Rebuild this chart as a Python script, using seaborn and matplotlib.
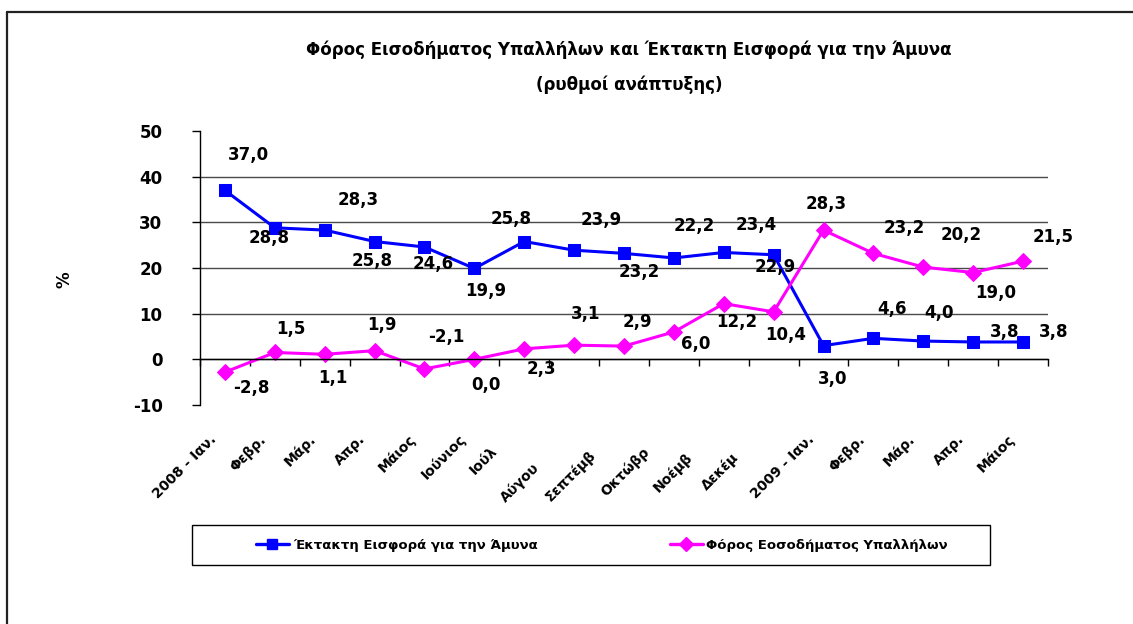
import numpy as np
import pandas as pd
import matplotlib
matplotlib.use("Agg")
import matplotlib.pyplot as plt
import seaborn as sns
from matplotlib.transforms import ScaledTranslation
from matplotlib.lines import Line2D
from matplotlib.patches import Rectangle

# ---------------- data ----------------
categories = ["2008 - Ιαν.", "Φεβρ.", "Μάρ.", "Απρ.", "Μάιος", "Ιούνιος", "Ιούλ",
              "Αύγου", "Σεπτέμβ", "Οκτώβρ", "Νοέμβ", "Δεκέμ", "2009 - Ιαν.",
              "Φεβρ.", "Μάρ.", "Απρ.", "Μάιος"]
defence_levy = [37.0, 28.8, 28.3, 25.8, 24.6, 19.9, 25.8, 23.9, 23.2, 22.2, 23.4,
                22.9, 3.0, 4.6, 4.0, 3.8, 3.8]
income_tax = [-2.8, 1.5, 1.1, 1.9, -2.1, 0.0, 2.3, 3.1, 2.9, 6.0, 12.2, 10.4,
              28.3, 23.2, 20.2, 19.0, 21.5]
series_names = ["Έκτακτη Εισφορά για την Άμυνα", "Φόρος Εοσοδήματος Υπαλλήλων"]
title_lines = ["Φόρος Εισοδήματος Υπαλλήλων και Έκτακτη Εισφορά για την Άμυνα",
               "(ρυθμοί ανάπτυξης)"]
y_label = "%"
yticks = [-10, 0, 10, 20, 30, 40, 50]

# ---------------- styling ----------------
BLUE = "#0000FF"
MAGENTA = "#FF00FF"
# data-label offsets in pixels (right, down)
blue_off = [(23, -35), (-6, 10), (33, -30), (-2, 19), (9, 17), (11, 23), (-13, -23),
            (27, -30), (15, 19), (20, -32), (32, -27), (2, 12), (9, 33), (19, -29),
            (16, -28), (31, -10), (31, -10)]
pink_off = [(26, 16), (16, -23), (8, 24), (7, -26), (22, -32), (12, 26), (17, 20),
            (12, -31), (13, -24), (22, 12), (13, 18), (12, 23), (3, -26), (31, -25),
            (38, -32), (23, 20), (30, -24)]
# extra tick-label shifts (pixels right, down) for clipped month names
tick_extra = {6: (-18, 12), 7: (-26, 28), 8: (-19, 16), 9: (-16, 13), 10: (-22, 18),
              11: (-26, 18)}

sns.set_style("white")
plt.rcParams["font.family"] = ["DejaVu Sans"]
plt.rcParams["axes.unicode_minus"] = False
for k in ["text.color", "axes.labelcolor", "xtick.color", "ytick.color", "axes.edgecolor"]:
    plt.rcParams[k] = "black"

W, H = 1133, 624
fig = plt.figure(figsize=(W / 100, H / 100), dpi=100)
ax = fig.add_axes([200 / W, 1 - 405 / H, 848 / W, 274 / H])

idx = list(range(len(categories)))
df = pd.DataFrame({
    "idx": idx * 2,
    "value": defence_levy + income_tax,
    "series": [series_names[0]] * len(idx) + [series_names[1]] * len(idx),
})
sns.lineplot(data=df, x="idx", y="value", hue="series", style="series",
             hue_order=series_names, style_order=series_names,
             palette={series_names[0]: BLUE, series_names[1]: MAGENTA},
             markers={series_names[0]: "s", series_names[1]: "D"},
             dashes=False, linewidth=2.2, markersize=8, legend=False, ax=ax)
for ln, ms in zip(ax.lines[:2], [8, 8.5]):
    ln.set_markeredgecolor(ln.get_color())
    ln.set_markersize(ms)

ax.set_xlim(-0.5, len(categories) - 0.5)
ax.set_ylim(yticks[0], yticks[-1])
ax.set_yticks(yticks)
ax.set_yticklabels([str(t) for t in yticks], fontsize=12, fontweight="bold")
for t in yticks:
    if yticks[0] < t < yticks[-1]:
        ax.axhline(t, color="#4a4a4a", lw=1, zorder=0)

# axes / spines
for s in ["top", "right"]:
    ax.spines[s].set_visible(False)
ax.spines["left"].set_linewidth(1)
ax.spines["bottom"].set_position(("data", 0))
ax.spines["bottom"].set_linewidth(1)
ax.tick_params(axis="y", direction="out", length=6, width=1, pad=21, left=True)
ax.set_xticks(idx)
ax.set_xticks(np.arange(-0.5, len(categories), 1), minor=True)
ax.tick_params(axis="x", which="major", length=0, pad=56)
ax.tick_params(axis="x", which="minor", direction="out", length=5, width=1, bottom=True)
ax.set_xticklabels(categories, rotation=45, ha="right", va="center",
                   rotation_mode="anchor", fontsize=10, fontweight="bold")
for i, lab in enumerate(ax.get_xticklabels()):
    dx, dy = tick_extra.get(i, (0, 0))
    lab.set_transform(lab.get_transform() +
                      ScaledTranslation((-11 + dx) / 100, -dy / 100, fig.dpi_scale_trans))
ax.set_xlabel("")
ax.set_ylabel(y_label, fontsize=12, fontweight="bold", rotation=90)
ax.yaxis.set_label_coords((74 - 200) / 848, (405 - 280) / 274)

# data labels
def fmt(v):
    return f"{v:.1f}".replace(".", ",")

for vals, offs in [(defence_levy, blue_off), (income_tax, pink_off)]:
    for i, (v, (dx, dy)) in enumerate(zip(vals, offs)):
        ax.annotate(fmt(v), xy=(i, v), xytext=(dx, -dy), textcoords="offset pixels",
                    ha="center", va="center", fontsize=12, fontweight="bold",
                    annotation_clip=False)

# title
fig.text(629 / W, 1 - 50 / H, title_lines[0], ha="center", va="center",
         fontsize=12, fontweight="bold")
fig.text(629 / W, 1 - 85 / H, title_lines[1], ha="center", va="center",
         fontsize=12, fontweight="bold")

# legend
handles = [Line2D([], [], color=BLUE, lw=2.4, marker="s", markersize=7,
                  markeredgecolor=BLUE),
           Line2D([], [], color=MAGENTA, lw=2.4, marker="D", markersize=7,
                  markeredgecolor=MAGENTA)]
fig.add_artist(Rectangle((192 / W, 1 - 565 / H), 798 / W, 40 / H,
                         transform=fig.transFigure, fill=False,
                         edgecolor="black", lw=1))
fig.legend(handles, series_names, loc="center", bbox_to_anchor=(602 / W, 1 - 545 / H),
           ncol=2, frameon=False, columnspacing=10, handlelength=2.5,
           handletextpad=0.3, prop=dict(weight="bold", size=9.5))

# outer chart border (left and top only)
fig.add_artist(Line2D([7 / W, 7 / W], [0, 1 - 12 / H], transform=fig.transFigure,
                      color="#222222", lw=1.6))
fig.add_artist(Line2D([7 / W, 1], [1 - 12 / H, 1 - 12 / H], transform=fig.transFigure,
                      color="#222222", lw=1.6))

fig.savefig("out.png", dpi=100)
